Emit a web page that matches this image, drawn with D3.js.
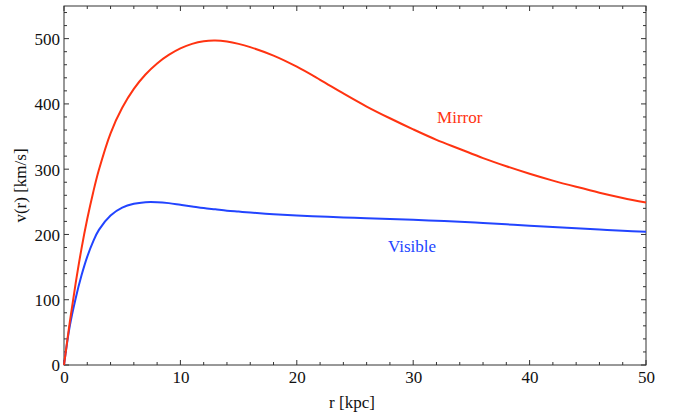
<!DOCTYPE html>
<html>
<head>
<meta charset="utf-8">
<script src="https://cdn.jsdelivr.net/npm/d3@7"></script>
<style>
  body { margin: 0; background: #fff; }
</style>
</head>
<body>
<svg id="chart"></svg>
<script>
// radius grid (kpc)
const radius = [0, 0.5, 1, 1.5, 2, 2.5, 3, 4, 5, 6, 7, 8, 9, 10, 11, 12, 13, 14, 15, 16, 18, 20, 22, 24, 26, 28, 30, 32, 34, 36, 38, 40, 42, 44, 46, 48, 50];
// rotation velocity (km/s)
const mirror = [0, 66, 125, 178, 224, 264, 299, 355, 394, 423, 445, 462, 475, 485, 492, 496, 497, 495.5, 492, 487, 474, 457, 437, 416, 396, 378, 361, 345, 331, 317, 304.5, 293, 282.5, 273, 264, 256, 249];
const visible = [0, 60, 102, 137, 166, 189, 207, 229, 241, 247, 249.5, 249.5, 248, 245.5, 243, 240.5, 238.5, 236.5, 235, 233.5, 231, 229, 227.5, 226, 225, 223.8, 222.5, 221, 219.5, 217.5, 215.5, 213.5, 211.5, 209.5, 207.5, 205.5, 204];
const xTicks = [0, 10, 20, 30, 40, 50];
const yTicks = [0, 100, 200, 300, 400, 500];
const seriesLabels = [
    { name: 'Mirror', r: 34, v: 380, color: '#ff3311' },
    { name: 'Visible', r: 29.9, v: 182, color: '#2244ff' }
];

const width = 675;
const height = 414;
const marginTop = 6;
const marginRight = 29;
const marginBottom = 49;
const marginLeft = 64;
const serif = '"Liberation Serif", "Times New Roman", "DejaVu Serif", serif';

const svg = d3.select('#chart').attr('width', width).attr('height', height);

const x = d3.scaleLinear().domain([0, 50]).range([marginLeft, width - marginRight]);
const y = d3.scaleLinear().domain([0, 550]).range([height - marginBottom, marginTop]);

const minorX = d3.range(0, 50.01, 2).filter(d => d % 10 !== 0);
const minorY = d3.range(0, 550.01, 20).filter(d => d % 100 !== 0);

const axisColor = '#333';

// bottom tick labels
const gb = svg.append('g')
    .attr('transform', `translate(0,${y(0)})`)
    .call(d3.axisBottom(x).tickValues(xTicks).tickSize(0).tickPadding(6).tickFormat(d3.format('d')));
gb.attr('font-family', serif);
gb.selectAll('text').attr('font-size', 17).attr('fill', '#111').attr('dy', '0.72em');

// left tick labels
const gl = svg.append('g')
    .attr('transform', `translate(${x(0)},0)`)
    .call(d3.axisLeft(y).tickValues(yTicks).tickSize(0).tickPadding(4).tickFormat(d3.format('d')));
gl.attr('font-family', serif);
gl.selectAll('text').attr('font-size', 17).attr('fill', '#111').attr('dy', '0.35em');

svg.selectAll('.domain').remove();

// frame with inward ticks on all four sides
const frame = svg.append('g').attr('stroke', axisColor).attr('stroke-width', 1);
frame.append('rect')
    .attr('x', x(0)).attr('y', y(550))
    .attr('width', x(50) - x(0)).attr('height', y(0) - y(550))
    .attr('fill', 'none');

function tickLen(v, step) { return v % step === 0 ? 5 : 3; }

xTicks.concat(minorX).forEach(v => {
    const len = tickLen(v, 10);
    frame.append('line').attr('x1', x(v)).attr('x2', x(v)).attr('y1', y(0)).attr('y2', y(0) - len);
    frame.append('line').attr('x1', x(v)).attr('x2', x(v)).attr('y1', y(550)).attr('y2', y(550) + len);
});
yTicks.concat(minorY).forEach(v => {
    const len = tickLen(v, 100);
    frame.append('line').attr('y1', y(v)).attr('y2', y(v)).attr('x1', x(0)).attr('x2', x(0) + len);
    frame.append('line').attr('y1', y(v)).attr('y2', y(v)).attr('x1', x(50)).attr('x2', x(50) - len);
});

// curves
const line = d3.line()
    .x((d, i) => x(radius[i]))
    .y(d => y(d))
    .curve(d3.curveCatmullRom.alpha(0.5));

svg.append('path').datum(visible)
    .attr('fill', 'none').attr('stroke', '#2244ff').attr('stroke-width', 2)
    .attr('d', line);
svg.append('path').datum(mirror)
    .attr('fill', 'none').attr('stroke', '#ff3311').attr('stroke-width', 2)
    .attr('d', line);

// curve labels
svg.selectAll('.lbl').data(seriesLabels).join('text')
    .attr('class', 'lbl')
    .attr('x', d => x(d.r)).attr('y', d => y(d.v))
    .attr('dy', '0.35em')
    .attr('text-anchor', 'middle')
    .attr('font-family', serif)
    .attr('font-size', 17)
    .attr('fill', d => d.color)
    .text(d => d.name);

// axis titles
svg.append('text')
    .attr('x', (x(0) + x(50)) / 2 - 3).attr('y', height - 6)
    .attr('text-anchor', 'middle').attr('font-family', serif)
    .attr('font-size', 17).attr('fill', '#111')
    .text('r [kpc]');

svg.append('text')
    .attr('transform', `translate(26,${(y(0) + y(550)) / 2}) rotate(-90)`)
    .attr('text-anchor', 'middle').attr('font-family', serif)
    .attr('font-size', 17).attr('fill', '#111')
    .text('v(r) [km/s]');
</script>
</body>
</html>
